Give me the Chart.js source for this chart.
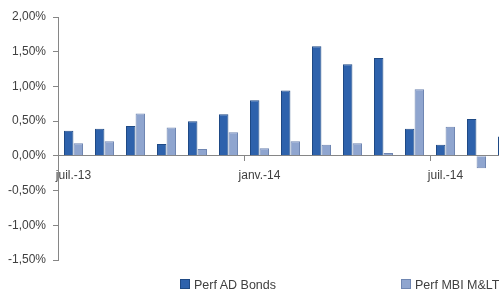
<!DOCTYPE html>
<html>
<head>
<meta charset="utf-8">
<script src="https://cdn.jsdelivr.net/npm/chart.js@4/dist/chart.umd.min.js"></script>
<style>
    html, body { margin: 0; padding: 0; background: #fff; }
    body { width: 499px; height: 291px; overflow: hidden; position: relative; font-family: "Liberation Sans", Arial, sans-serif; }
    #wrap { position: absolute; left: 0; top: 0; width: 530px; height: 291px; }
    .leg { position: absolute; top: 278px; font-size: 12.5px; color: #404040; white-space: nowrap; }
    .leg i { display: inline-block; width: 8px; height: 8px; margin-right: 4px; vertical-align: 0px; }
</style>
</head>
<body>
<div id="wrap"><canvas id="grafik" width="530" height="291"></canvas></div>
<div class="leg" style="left:180px"><i style="background:#2E62AC;border:1px solid #1F4A85"></i>Perf AD Bonds</div>
<div class="leg" style="left:401px"><i style="background:#8FA5CF;border:1px solid #6F86B2"></i>Perf MBI M&amp;LT</div>
<script>
// mois de juil.-13 a sept.-14
const mois = ["juil.-13","août-13","sept.-13","oct.-13","nov.-13","déc.-13",
              "janv.-14","févr.-14","mars-14","avr.-14","mai-14","juin-14",
              "juil.-14","août-14","sept.-14"];

// performances mensuelles en %
const perfADBonds = [0.36, 0.39, 0.43, 0.17, 0.50, 0.60, 0.80, 0.94, 1.58, 1.32, 1.41, 0.39, 0.16, 0.53, 0.28];
const perfMBI     = [0.18, 0.21, 0.61, 0.41, 0.10, 0.34, 0.11, 0.21, 0.16, 0.18, 0.04, 0.96, 0.42, -0.18, 0.10];

// labels affichés sur l'axe X (un tous les 6 mois)
const labelsAffiches = ["juil.-13", "janv.-14", "juil.-14"];

const yMin = -1.5, yMax = 2.0, yStep = 0.5;
const grisAxe = "#868686";

function fmtPct(v) {
    return v.toFixed(2).replace(".", ",") + "%";
}

new Chart(document.getElementById("grafik"), {
    type: "bar",
    data: {
        labels: mois,
        datasets: [
            {
                label: "Perf AD Bonds",
                data: perfADBonds,
                backgroundColor: "#2E62AC",
                borderColor: "#1F4A85",
                borderWidth: 1,
                categoryPercentage: 0.62,
                barPercentage: 0.98
            },
            {
                label: "Perf MBI M&LT",
                data: perfMBI,
                backgroundColor: "#8FA5CF",
                borderColor: "#6F86B2",
                borderWidth: 1,
                categoryPercentage: 0.62,
                barPercentage: 0.98
            }
        ]
    },
    options: {
        responsive: false,
        animation: false,
        layout: { padding: { top: 17, bottom: 31, right: 7, left: 0 } },
        plugins: {
            legend: { display: false },
            tooltip: { enabled: false }
        },
        scales: {
            x: {
                position: { y: 0 },
                grid: {
                    drawOnChartArea: false,
                    tickLength: 5,
                    color: (ctx) => (ctx.index % 6 === 0 ? grisAxe : "rgba(0,0,0,0)")
                },
                border: { color: grisAxe },
                ticks: {
                    autoSkip: false,
                    maxRotation: 0,
                    padding: 8,
                    color: "#404040",
                    font: { family: "Liberation Sans", size: 12 },
                    callback: function (v, i) {
                        const l = mois[i];
                        return labelsAffiches.includes(l) ? l : "";
                    }
                }
            },
            y: {
                min: yMin,
                max: yMax,
                afterFit: (s) => { s.width = 58; },
                grid: { drawOnChartArea: false, tickLength: 5, color: grisAxe },
                border: { color: grisAxe },
                ticks: {
                    stepSize: yStep,
                    padding: 7,
                    color: "#404040",
                    font: { family: "Liberation Sans", size: 12 },
                    callback: (v) => fmtPct(v)
                }
            }
        }
    }
});
</script>
</body>
</html>
